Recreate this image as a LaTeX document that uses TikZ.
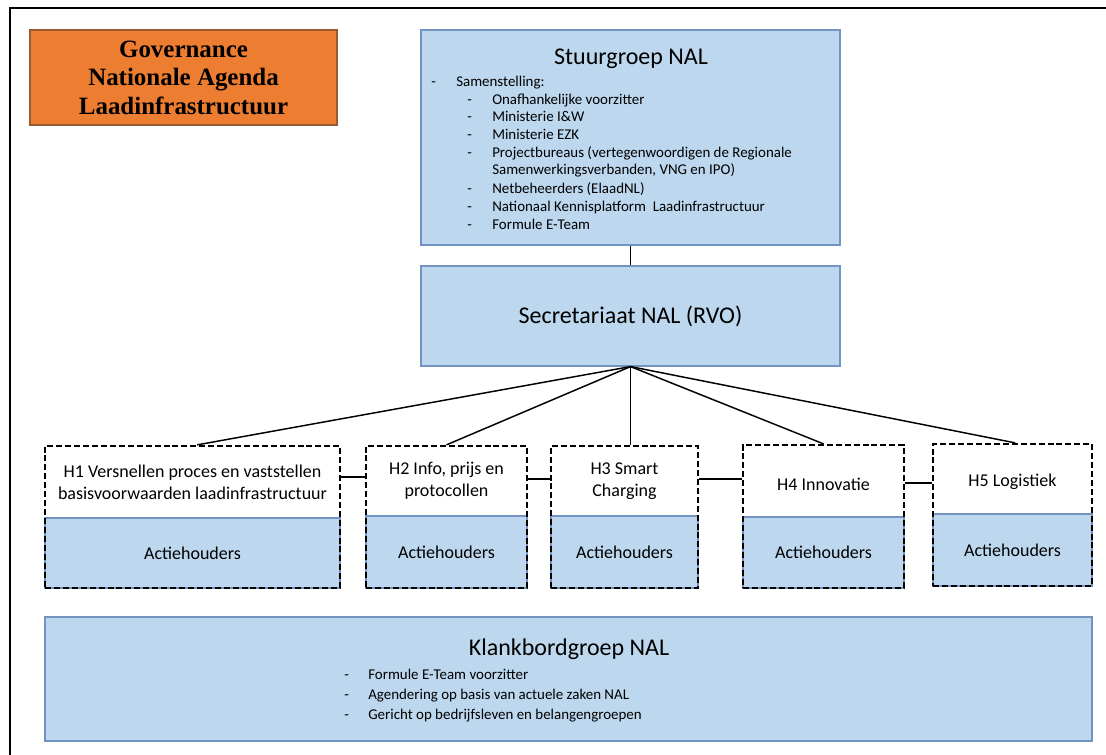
\documentclass[tikz,border=0pt]{standalone}
\usepackage{fontspec}
\setmainfont{Carlito}
\newfontfamily\titlefont{Liberation Serif}
\usetikzlibrary{fit}
\definecolor{bluefill}{HTML}{BDD7EE}
\definecolor{blueline}{HTML}{7394C2}
\definecolor{orangefill}{HTML}{ED7D31}
\definecolor{orangeline}{HTML}{9A5A30}
\begin{document}
\begin{tikzpicture}[x=0.75pt,y=-0.75pt,
 bluebox/.style={fill=bluefill,draw=blueline,line width=0.9pt,inner sep=0pt},
 orbox/.style={fill=orangefill,draw=orangeline,line width=0.8pt,inner sep=0pt},
 dashbox/.style={draw=black,line width=1.7pt,dash pattern=on 4.5pt off 2.2pt,inner sep=0pt},
 conn/.style={draw=black,line width=1.1pt},
 big/.style={font=\fontsize{18}{21}\selectfont,inner sep=0pt},
 hd/.style={font=\fontsize{13.5}{16.5}\selectfont,align=center,inner sep=0pt},
 item/.style={font=\fontsize{11.2}{13}\selectfont,anchor=west,inner sep=0pt,text height=8pt,text depth=2.5pt},
]
\useasboundingbox (0,0) rectangle (1106,755);
\fill[white] (0,0) rectangle (1106,755);
\draw[line width=1.6pt] (10,755) -- (10,8) -- (1106,8);

% title
\node[orbox, fit={(30,30) (337,125)}] (gov) {};
\node[align=center, inner sep=0pt, font=\titlefont\bfseries\fontsize{18.7}{21.4}\selectfont] (govt) at (gov.center) {Governance\\Nationale Agenda\\Laadinfrastructuur};

% Stuurgroep
\node[bluebox, fit={(421,30) (840,245)}] (stuur) {};
\node[big] (stuurt) at (631,59) {Stuurgroep NAL};
\node[item] (sd0) at (431,82.5) {-};
\node[item] (si0) at (456,82.5) {Samenstelling:};
\node[item] (sd1) at (467,100.4) {-};
\node[item] (si1) at (492,100.4) {Onafhankelijke voorzitter};
\node[item] (sd2) at (467,118.3) {-};
\node[item] (si2) at (492,118.3) {Ministerie I\&W};
\node[item] (sd3) at (467,136.2) {-};
\node[item] (si3) at (492,136.2) {Ministerie EZK};
\node[item] (sd4) at (467,154.1) {-};
\node[item] (si4) at (492,154.1) {Projectbureaus (vertegenwoordigen de Regionale};
\node[item] (si4b) at (492,171) {Samenwerkingsverbanden, VNG en IPO)};
\node[item] (sd5) at (467,189.9) {-};
\node[item] (si5) at (492,189.9) {Netbeheerders (ElaadNL)};
\node[item] (sd6) at (467,207.8) {-};
\node[item] (si6) at (492,207.8) {Nationaal Kennisplatform\ \ Laadinfrastructuur};
\node[item] (sd7) at (467,225.7) {-};
\node[item] (si7) at (492,225.7) {Formule E-Team};

% Secretariaat
\node[bluebox, fit={(421,266) (840,366)}] (sec) {};
\node[big] (sect) at (sec.center) {Secretariaat NAL (RVO)};

% H boxes: blue lower parts
\node[bluebox, fit={(45,518) (340,588)}] (h1a) {};
\node[bluebox, fit={(366,516) (527,588)}] (h2a) {};
\node[bluebox, fit={(551,516) (698,588)}] (h3a) {};
\node[bluebox, fit={(743,517) (904,588)}] (h4a) {};
\node[bluebox, fit={(933,514) (1092,586)}] (h5a) {};
\node[hd] (h1at) at (h1a.center) {Actiehouders};
\node[hd] (h2at) at (h2a.center) {Actiehouders};
\node[hd] (h3at) at (h3a.center) {Actiehouders};
\node[hd] (h4at) at (h4a.center) {Actiehouders};
\node[hd] (h5at) at (h5a.center) {Actiehouders};

% dashed outlines
\node[dashbox, fit={(45,446) (340,588)}] (h1) {};
\node[dashbox, fit={(366,446) (527,588)}] (h2) {};
\node[dashbox, fit={(551,446) (698,588)}] (h3) {};
\node[dashbox, fit={(743,445) (904,588)}] (h4) {};
\node[dashbox, fit={(933,444) (1092,586)}] (h5) {};

\node[hd] (h1t) at (192.5,482) {H1 Versnellen proces en vaststellen\\basisvoorwaarden laadinfrastructuur};
\node[hd] (h2t) at (446.5,481) {H2 Info, prijs en\\protocollen};
\node[hd] (h3t) at (624.5,481) {H3 Smart\\Charging};
\node[hd] (h4t) at (823.5,484) {H4 Innovatie};
\node[hd] (h5t) at (1012.5,482) {H5 Logistiek};

% connectors
\draw[conn] (stuur.south) -- (sec.north);
\draw[conn] (sec.south) -- ([xshift=3.5pt]h1.north);
\draw[conn] (sec.south) -- (h2.north);
\draw[conn] (sec.south) -- (sec.south |- h3.north);
\draw[conn] (sec.south) -- (h4.north);
\draw[conn] (sec.south) -- ([xshift=2pt]h5.north);
\draw[conn] (h1.east |- 0,477) -- (h2.west |- 0,477);
\draw[conn] (h2.east |- 0,479) -- (h3.west |- 0,479);
\draw[conn] (h3.east |- 0,479) -- (h4.west |- 0,479);
\draw[conn] (h4.east |- 0,483) -- (h5.west |- 0,483);

% Klankbordgroep
\node[bluebox, fit={(45,617) (1092,741)}] (klank) {};
\node[big] (klankt) at (569,649) {Klankbordgroep NAL};
\node[item] (kd1) at (344,676) {-};
\node[item] (ki1) at (368,676) {Formule E-Team voorzitter};
\node[item] (kd2) at (344,696) {-};
\node[item] (ki2) at (368,696) {Agendering op basis van actuele zaken NAL};
\node[item] (kd3) at (344,716) {-};
\node[item] (ki3) at (368,716) {Gericht op bedrijfsleven en belangengroepen};
\end{tikzpicture}
\end{document}
